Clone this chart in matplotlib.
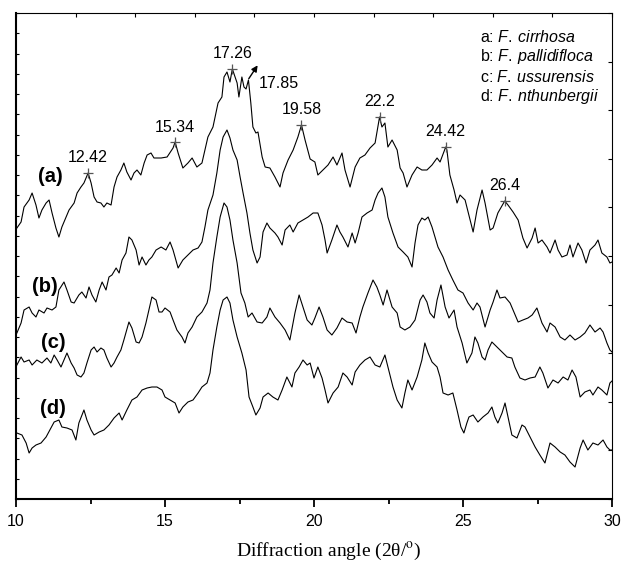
import matplotlib
matplotlib.use("Agg")
import matplotlib.pyplot as plt
from matplotlib.ticker import MultipleLocator

plt.rcParams['font.family'] = ['Liberation Sans', 'DejaVu Sans']
plt.rcParams['mathtext.fontset'] = 'custom'
plt.rcParams['mathtext.rm'] = 'Liberation Sans'
plt.rcParams['mathtext.it'] = 'Liberation Sans:italic'

# XRD patterns, 2theta (deg) vs intensity (a.u., stacked)
x_a = [10.03, 10.17, 10.27, 10.44, 10.54, 10.67, 10.77, 10.87, 11.01, 11.11, 11.21, 11.34, 11.44, 11.54,
       11.68, 11.78, 11.95, 12.05, 12.18, 12.28, 12.42, 12.52, 12.62, 12.72, 12.85, 12.95, 13.05, 13.19,
       13.29, 13.39, 13.52, 13.62, 13.72, 13.86, 13.96, 14.06, 14.19, 14.30, 14.40, 14.53, 14.63, 14.87,
       15.07, 15.27, 15.34, 15.44, 15.60, 15.77, 15.91, 16.07, 16.24, 16.34, 16.44, 16.61, 16.78, 16.91,
       16.98, 17.08, 17.18, 17.26, 17.35, 17.42, 17.48, 17.58, 17.65, 17.72, 17.80, 17.88, 17.95, 18.05,
       18.12, 18.26, 18.36, 18.52, 18.69, 18.86, 18.96, 19.13, 19.30, 19.46, 19.58, 19.70, 19.87, 20.03,
       20.13, 20.30, 20.47, 20.64, 20.77, 20.94, 21.04, 21.21, 21.38, 21.54, 21.71, 21.88, 22.05, 22.20,
       22.28, 22.38, 22.48, 22.62, 22.79, 22.89, 22.99, 23.12, 23.29, 23.46, 23.62, 23.79, 23.96, 24.13,
       24.23, 24.42, 24.46, 24.56, 24.70, 24.80, 24.90, 25.07, 25.17, 25.34, 25.47, 25.64, 25.74, 25.91,
       26.01, 26.17, 26.40, 26.51, 26.68, 26.85, 27.01, 27.15, 27.32, 27.42, 27.52, 27.65, 27.82, 27.92,
       28.09, 28.19, 28.32, 28.49, 28.59, 28.69, 28.86, 28.99, 29.13, 29.26, 29.43, 29.53, 29.66, 29.83,
       29.93, 30.00]
y_a = [271, 277, 292, 299, 306, 294, 281, 289, 296, 299, 286, 271, 262, 272,
       282, 289, 296, 306, 312, 316, 326, 316, 302, 297, 296, 292, 296, 294,
       312, 322, 329, 336, 327, 319, 326, 329, 324, 336, 344, 346, 341, 341,
       342, 351, 357, 346, 331, 336, 341, 332, 336, 349, 362, 372, 396, 402,
       422, 427, 417, 430, 422, 416, 402, 422, 412, 410, 419, 396, 372, 366,
       367, 342, 332, 331, 322, 312, 326, 339, 349, 362, 374, 359, 340, 337,
       324, 329, 334, 342, 334, 346, 329, 312, 332, 341, 344, 351, 356, 382,
       372, 376, 352, 359, 349, 331, 326, 312, 324, 332, 329, 329, 334, 341,
       337, 352, 349, 324, 309, 296, 304, 299, 287, 267, 289, 309, 296, 269,
       271, 286, 298, 294, 287, 279, 261, 251, 261, 271, 256, 259, 252, 246,
       259, 249, 242, 244, 254, 242, 256, 249, 236, 249, 254, 259, 246, 242,
       236, 237]

x_b = [10.03, 10.17, 10.27, 10.44, 10.54, 10.67, 10.77, 10.94, 11.04, 11.21, 11.34, 11.44, 11.61, 11.71,
       11.85, 11.95, 12.11, 12.21, 12.35, 12.45, 12.55, 12.68, 12.79, 12.89, 13.02, 13.12, 13.22, 13.36,
       13.46, 13.56, 13.69, 13.79, 13.89, 14.03, 14.13, 14.23, 14.36, 14.46, 14.56, 14.70, 14.87, 15.03,
       15.17, 15.27, 15.44, 15.60, 15.77, 15.94, 16.11, 16.24, 16.34, 16.44, 16.61, 16.74, 16.85, 16.95,
       17.08, 17.18, 17.28, 17.42, 17.52, 17.62, 17.75, 17.85, 17.95, 18.09, 18.19, 18.29, 18.42, 18.52,
       18.69, 18.79, 18.93, 19.03, 19.19, 19.30, 19.46, 19.63, 19.80, 19.97, 20.13, 20.27, 20.37, 20.44,
       20.60, 20.77, 20.87, 20.97, 21.14, 21.28, 21.38, 21.48, 21.61, 21.78, 21.95, 22.05, 22.15, 22.28,
       22.38, 22.48, 22.65, 22.82, 22.99, 23.15, 23.29, 23.39, 23.49, 23.62, 23.72, 23.83, 23.96, 24.06,
       24.16, 24.33, 24.50, 24.66, 24.83, 25.00, 25.17, 25.34, 25.47, 25.57, 25.74, 25.91, 26.01, 26.14,
       26.24, 26.41, 26.58, 26.68, 26.85, 27.01, 27.18, 27.32, 27.48, 27.65, 27.82, 27.92, 28.09, 28.26,
       28.42, 28.59, 28.76, 28.93, 29.09, 29.26, 29.43, 29.60, 29.70, 29.83, 29.93, 30.00]
y_b = [166, 176, 189, 192, 186, 182, 189, 186, 191, 189, 192, 209, 217, 209,
       197, 196, 204, 207, 201, 212, 204, 197, 209, 217, 209, 222, 224, 231,
       226, 239, 246, 262, 259, 249, 234, 242, 234, 239, 242, 249, 252, 249,
       257, 249, 231, 239, 244, 249, 251, 257, 272, 289, 304, 326, 349, 362,
       369, 361, 349, 339, 322, 306, 286, 266, 249, 236, 242, 267, 276, 271,
       266, 262, 254, 269, 274, 267, 276, 279, 282, 286, 286, 274, 259, 246,
       259, 274, 267, 262, 252, 266, 256, 266, 282, 286, 289, 299, 306, 311,
       302, 282, 266, 252, 247, 242, 232, 256, 274, 281, 279, 282, 272, 262,
       252, 242, 229, 219, 209, 206, 196, 189, 196, 192, 172, 189, 197, 209,
       201, 202, 196, 189, 177, 179, 181, 184, 191, 176, 167, 176, 172, 162,
       159, 164, 159, 162, 166, 174, 167, 171, 167, 156, 149, 147]

x_c = [10.03, 10.17, 10.27, 10.44, 10.54, 10.70, 10.87, 11.04, 11.17, 11.28, 11.38, 11.51, 11.61, 11.71,
       11.85, 11.95, 12.05, 12.18, 12.28, 12.38, 12.52, 12.62, 12.72, 12.85, 12.95, 13.05, 13.19, 13.29,
       13.39, 13.52, 13.62, 13.79, 13.89, 14.03, 14.13, 14.23, 14.36, 14.46, 14.56, 14.70, 14.80, 14.90,
       15.00, 15.17, 15.27, 15.40, 15.57, 15.67, 15.77, 15.91, 16.07, 16.24, 16.41, 16.51, 16.61, 16.74,
       16.85, 16.98, 17.08, 17.18, 17.28, 17.42, 17.55, 17.68, 17.79, 17.92, 18.09, 18.26, 18.42, 18.52,
       18.69, 18.86, 19.03, 19.19, 19.36, 19.50, 19.63, 19.77, 19.93, 20.03, 20.17, 20.30, 20.44, 20.60,
       20.77, 20.94, 21.11, 21.28, 21.41, 21.54, 21.64, 21.81, 21.98, 22.11, 22.21, 22.32, 22.45, 22.62,
       22.79, 22.89, 23.05, 23.22, 23.39, 23.56, 23.66, 23.79, 23.89, 24.03, 24.13, 24.26, 24.40, 24.53,
       24.70, 24.80, 24.97, 25.13, 25.30, 25.40, 25.50, 25.64, 25.74, 25.84, 25.97, 26.14, 26.31, 26.48,
       26.64, 26.74, 26.91, 27.08, 27.25, 27.42, 27.58, 27.68, 27.85, 28.02, 28.19, 28.36, 28.52, 28.66,
       28.79, 28.93, 29.09, 29.26, 29.36, 29.53, 29.66, 29.83, 29.93, 30.00]
y_c = [134, 142, 137, 139, 134, 139, 136, 141, 136, 144, 139, 132, 139, 146,
       136, 131, 124, 122, 126, 136, 149, 152, 147, 151, 149, 141, 132, 136,
       142, 149, 159, 177, 171, 157, 156, 162, 176, 189, 202, 199, 187, 187,
       191, 187, 179, 169, 162, 156, 166, 172, 182, 187, 196, 209, 236, 262,
       282, 296, 292, 279, 259, 236, 206, 196, 182, 186, 177, 176, 182, 191,
       182, 176, 169, 159, 186, 204, 192, 179, 174, 181, 192, 182, 169, 164,
       171, 181, 177, 176, 166, 182, 192, 206, 219, 212, 204, 194, 209, 192,
       186, 172, 169, 172, 179, 199, 204, 197, 186, 181, 199, 214, 192, 181,
       189, 172, 156, 136, 146, 162, 156, 142, 139, 149, 157, 152, 147, 142,
       141, 132, 121, 119, 121, 122, 132, 126, 111, 119, 116, 122, 119, 129,
       122, 102, 107, 109, 104, 112, 109, 104, 116, 118]

x_d = [10.03, 10.20, 10.34, 10.44, 10.54, 10.67, 10.84, 11.01, 11.17, 11.28, 11.44, 11.54, 11.71, 11.88,
       12.01, 12.11, 12.28, 12.38, 12.52, 12.62, 12.79, 12.95, 13.12, 13.29, 13.46, 13.56, 13.72, 13.89,
       14.06, 14.23, 14.40, 14.56, 14.73, 14.90, 15.00, 15.17, 15.34, 15.47, 15.60, 15.77, 15.94, 16.11,
       16.24, 16.41, 16.51, 16.61, 16.74, 16.85, 16.95, 17.08, 17.18, 17.28, 17.42, 17.58, 17.72, 17.82,
       17.95, 18.05, 18.19, 18.29, 18.46, 18.62, 18.79, 18.93, 19.09, 19.26, 19.36, 19.50, 19.63, 19.77,
       19.87, 20.00, 20.13, 20.27, 20.37, 20.47, 20.64, 20.81, 20.97, 21.11, 21.28, 21.38, 21.54, 21.71,
       21.88, 22.05, 22.21, 22.38, 22.48, 22.65, 22.79, 22.95, 23.05, 23.15, 23.29, 23.46, 23.62, 23.72,
       23.83, 23.96, 24.13, 24.23, 24.33, 24.50, 24.66, 24.80, 24.93, 25.03, 25.13, 25.20, 25.34, 25.50,
       25.67, 25.84, 25.97, 26.07, 26.17, 26.31, 26.41, 26.51, 26.64, 26.81, 26.98, 27.08, 27.25, 27.42,
       27.58, 27.75, 27.92, 28.09, 28.26, 28.42, 28.59, 28.76, 28.93, 29.03, 29.19, 29.36, 29.53, 29.70,
       29.83, 29.93, 30.00]
y_d = [66, 64, 56, 46, 51, 54, 56, 62, 71, 77, 79, 72, 71, 69,
       59, 76, 89, 79, 69, 64, 67, 69, 74, 81, 86, 79, 89, 99,
       102, 109, 111, 112, 112, 109, 102, 99, 96, 86, 92, 97, 99, 106,
       112, 116, 126, 149, 172, 189, 199, 202, 196, 179, 162, 146, 129, 102,
       92, 84, 91, 102, 106, 102, 99, 109, 122, 112, 126, 132, 139, 134,
       136, 121, 132, 121, 109, 96, 106, 112, 126, 122, 114, 127, 134, 139,
       142, 134, 132, 144, 132, 112, 99, 91, 106, 119, 109, 122, 139, 156,
       146, 137, 132, 122, 106, 104, 106, 89, 72, 66, 76, 82, 84, 77,
       82, 86, 92, 82, 76, 86, 96, 82, 64, 61, 74, 72, 62, 52,
       44, 36, 56, 52, 47, 44, 37, 32, 51, 59, 49, 56, 54, 59,
       52, 49, 49]

# labelled peaks of curve a
peak_pos = [12.42, 15.34, 17.26, 19.58, 22.2, 24.42, 26.4]
peak_int = [326, 357, 430, 374, 382, 352, 298]
peak_txt = ['12.42', '15.34', '17.26', '19.58', '22.2', '24.42', '26.4']

curve_tags = ['(a)', '(b)', '(c)', '(d)']
tag_pos = [(11.14, 322), (10.97, 212), (11.24, 156), (11.24, 91)]
legend_txt = ['a: $\\mathit{F.\\:cirrhosa}$', 'b: $\\mathit{F.\\:pallidifloca}$',
              'c: $\\mathit{F.\\:ussurensis}$', 'd: $\\mathit{F.\\:nthunbergii}$']

fig = plt.figure(figsize=(6.22, 5.62), dpi=100)
ax = fig.add_axes([16/622, 1 - 499/562, 596/622, 486/562])

for xs, ys in [(x_a, y_a), (x_b, y_b), (x_c, y_c), (x_d, y_d)]:
    ax.plot(xs, ys, color='black', lw=0.8)

ax.plot(peak_pos, peak_int, '+', color='#555555', ms=7, mew=0.9)
for p, v, t in zip(peak_pos, peak_int, peak_txt):
    ax.text(p, v + 15, t, ha='center', va='center', fontsize=11.5)

# arrow pointing to shoulder at 17.85
ax.annotate('', xy=(18.16, 436), xytext=(17.76, 418),
            arrowprops=dict(arrowstyle='-|>', color='black', lw=1, mutation_scale=9))
ax.text(18.83, 416, '17.85', ha='center', va='center', fontsize=11.5)

for t, (px, py) in zip(curve_tags, tag_pos):
    ax.text(px, py, t, ha='center', va='center', fontsize=14.5, fontweight='bold')

for i, t in enumerate(legend_txt):
    ax.text(25.57, 462 - 20 * i, t, ha='left', va='center', fontsize=11.5)

ax.set_xlim(10, 30)
ax.set_ylim(0, 486)
ax.xaxis.set_major_locator(MultipleLocator(5))
ax.xaxis.set_minor_locator(MultipleLocator(2.5))
ax.yaxis.set_major_locator(MultipleLocator(486 / 24))
ax.tick_params(axis='x', which='major', direction='out', length=6, width=1.3, labelsize=11.5, pad=5)
ax.tick_params(axis='x', which='minor', direction='out', length=3.5, width=1.3)
ax.tick_params(axis='y', direction='in', length=2, width=0.8, labelleft=False)
ax.spines['left'].set_linewidth(1.5)
ax.spines['bottom'].set_linewidth(1.5)
ax.spines['top'].set_linewidth(0.8)
ax.spines['right'].set_linewidth(0.8)

# top and right ticks
axt = ax.twiny()
axt.set_xlim(10, 30)
axt.xaxis.set_major_locator(MultipleLocator(2))
axt.tick_params(axis='x', direction='in', length=3, width=0.8, labeltop=False)
axr = ax.twinx()
axr.set_ylim(0, 486)
axr.yaxis.set_major_locator(MultipleLocator(48.6))
axr.tick_params(axis='y', direction='in', length=3, width=0.8, labelright=False)
for a in (axt, axr):
    for s in a.spines.values():
        s.set_visible(False)

fig.text(0.528, 0.011, 'Diffraction angle (2\u03b8/$^{\\mathrm{o}}$)', ha='center', va='baseline',
         fontsize=14, family='Liberation Serif', math_fontfamily='stix')

fig.savefig('out.png', dpi=100)
